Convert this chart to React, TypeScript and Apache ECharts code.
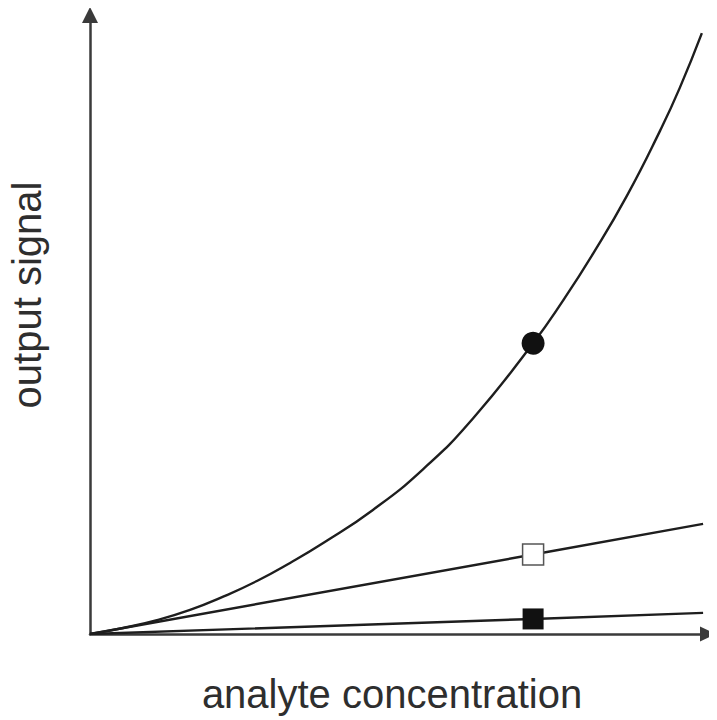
import React, { useEffect, useRef } from "react";
import * as echarts from "echarts";

// Curve values (arbitrary units)
const exponentialCurve: number[][] = [
  [0, 0], [0.54, 0.1], [1.09, 0.23], [1.63, 0.4], [2.17, 0.62], [2.72, 0.88],
  [3.26, 1.18], [3.8, 1.51], [4.61, 2.06], [5.43, 2.74], [6.24, 3.58],
  [7.22, 4.83], [7.71, 5.54], [8.2, 6.32], [8.75, 7.28], [9.29, 8.36],
  [9.61, 9.07], [9.97, 9.98],
];
const middleLine: number[][] = [[0, 0], [7.22, 1.32], [9.99, 1.83]];
const lowerLine: number[][] = [[0, 0], [7.22, 0.25], [9.99, 0.35]];

const circleMarker: number[][] = [[7.22, 4.83]];
const hollowSquareMarker: number[][] = [[7.22, 1.32]];
const filledSquareMarker: number[][] = [[7.22, 0.25]];

const xAxisLabel = "analyte concentration";
const yAxisLabel = "output signal";
const xMax = 10.07;
const yMax = 10.28;

export default function App() {
  const ref = useRef<HTMLDivElement>(null);
  useEffect(() => {
    if (!ref.current) return;
    const chart = echarts.init(ref.current, undefined, { renderer: "svg" });
    const lineColor = "#1e1e1e";
    const axisColor = "#3a3a3a";
    const font = '40px "Liberation Sans", Arial, sans-serif';
    chart.setOption({
      animation: false,
      backgroundColor: "#ffffff",
      grid: { left: 90, right: 9, top: 15, bottom: 86 },
      xAxis: {
        type: "value",
        min: 0,
        max: xMax,
        axisLine: {
          show: true,
          symbol: ["none", "triangle"],
          symbolSize: [15, 16],
          lineStyle: { color: axisColor, width: 2.5 },
        },
        axisTick: { show: false },
        axisLabel: { show: false },
        splitLine: { show: false },
      },
      yAxis: {
        type: "value",
        min: 0,
        max: yMax,
        axisLine: {
          show: true,
          symbol: ["none", "triangle"],
          symbolSize: [16, 16],
          lineStyle: { color: axisColor, width: 2.5 },
        },
        axisTick: { show: false },
        axisLabel: { show: false },
        splitLine: { show: false },
      },
      graphic: [
        {
          type: "text",
          x: 392,
          y: 694,
          style: {
            text: xAxisLabel,
            font,
            fill: "#2e2e2e",
            align: "center",
            verticalAlign: "middle",
          },
        },
        {
          type: "text",
          x: 27,
          y: 295,
          rotation: Math.PI / 2,
          style: {
            text: yAxisLabel,
            font,
            fill: "#2e2e2e",
            align: "center",
            verticalAlign: "middle",
          },
        },
      ],
      series: [
        {
          type: "line",
          data: exponentialCurve,
          smooth: 0.5,
          showSymbol: false,
          lineStyle: { color: lineColor, width: 2.4 },
          z: 2,
        },
        {
          type: "line",
          data: middleLine,
          showSymbol: false,
          lineStyle: { color: lineColor, width: 2.4 },
          z: 2,
        },
        {
          type: "line",
          data: lowerLine,
          showSymbol: false,
          lineStyle: { color: lineColor, width: 2.4 },
          z: 2,
        },
        {
          type: "scatter",
          data: circleMarker,
          symbol: "circle",
          symbolSize: 23,
          itemStyle: { color: "#111", opacity: 1 },
          z: 5,
        },
        {
          type: "scatter",
          data: hollowSquareMarker,
          symbol: "rect",
          symbolSize: 21,
          itemStyle: { color: "#ffffff", borderColor: "#555", borderWidth: 1.5, opacity: 1 },
          z: 5,
        },
        {
          type: "scatter",
          data: filledSquareMarker,
          symbol: "rect",
          symbolSize: 21,
          itemStyle: { color: "#111", opacity: 1 },
          z: 5,
        },
      ],
    });
    return () => chart.dispose();
  }, []);
  return <div ref={ref} style={{ width: 717, height: 720, marginLeft: -8, marginTop: -8 }} />;
}
